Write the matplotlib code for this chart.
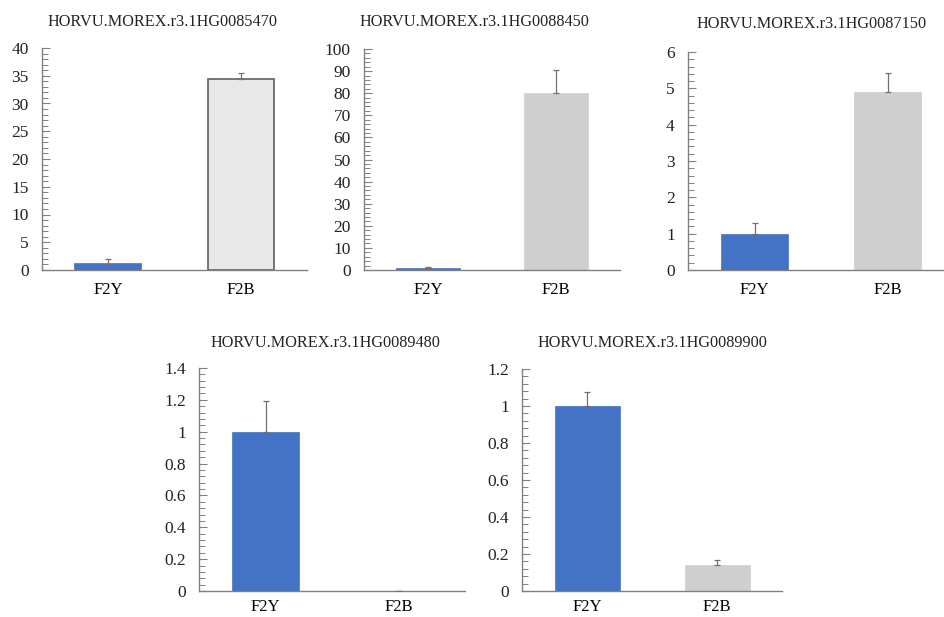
import numpy as np
import matplotlib
matplotlib.use('Agg')
import matplotlib.pyplot as plt
from matplotlib.ticker import MultipleLocator

plt.rcParams['font.family'] = ['Liberation Serif', 'DejaVu Serif']

groups = ['F2Y', 'F2B']
genes = ['HORVU.MOREX.r3.1HG0085470', 'HORVU.MOREX.r3.1HG0088450',
         'HORVU.MOREX.r3.1HG0087150', 'HORVU.MOREX.r3.1HG0089480',
         'HORVU.MOREX.r3.1HG0089900']
means = [[1.0, 34.5], [0.8, 80.2], [1.0, 4.9], [1.0, 0.003], [1.0, 0.14]]
errs = [[1.0, 1.0], [0.4, 10.3], [0.3, 0.52], [0.19, 0.0], [0.075, 0.025]]
ymax = [40, 100, 6, 1.4, 1.2]
ymajor = [5, 10, 1, 0.2, 0.2]
yminor = [1, 2, 0.2, 0.04, 0.04]

# axes boxes in pixels: left, right, bottom, top
W, H = 944, 617
boxes = [(42, 307, 270, 48), (364, 620, 270, 49), (688, 954, 270, 52),
         (199, 465, 591, 368), (522, 782, 591, 369)]
title_x = [162, 474, 812, 325, 652]
title_y = [22, 22, 24, 343, 343]
xpad = [9, 9, 9, 6, 6]

blue = '#4472C4'
grey = '#CFCFCF'
axis_col = '#808080'

fig = plt.figure(figsize=(W / 100, H / 100), dpi=100)

for i in range(len(genes)):
    l, r, b, t = boxes[i]
    ax = fig.add_axes([l / W, (H - b) / H, (r - l) / W, (b - t) / H])
    x = np.arange(len(groups))
    fills = [blue, '#E8E8E8' if i == 0 else grey]
    edges = [blue, '#606060' if i == 0 else grey]
    ax.bar(x, means[i], width=0.5, color=fills, edgecolor=edges,
           linewidth=1.2 if i == 0 else 0.5, zorder=2)
    ax.errorbar(x, means[i], yerr=[np.zeros(2), errs[i]], fmt='none',
                ecolor='#707070', elinewidth=0.9, capsize=2.5, capthick=0.9, zorder=3)
    ax.set_xlim(-0.5, 1.5)
    ax.set_ylim(0, ymax[i])
    ax.set_xticks(x)
    ax.set_xticklabels(groups, fontsize=12)
    ax.tick_params(axis='x', length=0, pad=xpad[i])
    ax.yaxis.set_major_locator(MultipleLocator(ymajor[i]))
    ax.yaxis.set_minor_locator(MultipleLocator(yminor[i]))
    if ymajor[i] < 1:
        ax.yaxis.set_major_formatter(plt.FuncFormatter(lambda v, p: '%g' % round(v, 2)))
    ax.tick_params(axis='y', which='both', direction='in', color=axis_col,
                   labelsize=12.5, pad=9.5, labelcolor='#222222')
    ax.tick_params(axis='y', which='major', length=6)
    ax.tick_params(axis='y', which='minor', length=4.5, width=0.7)
    for s in ['top', 'right']:
        ax.spines[s].set_visible(False)
    for s in ['left', 'bottom']:
        ax.spines[s].set_color(axis_col)
        ax.spines[s].set_linewidth(1.0)
    fig.text(title_x[i] / W, 1 - title_y[i] / H, genes[i], ha='center',
             va='center', fontsize=11.7, color='#222222')

fig.savefig('out.png', dpi=100)
